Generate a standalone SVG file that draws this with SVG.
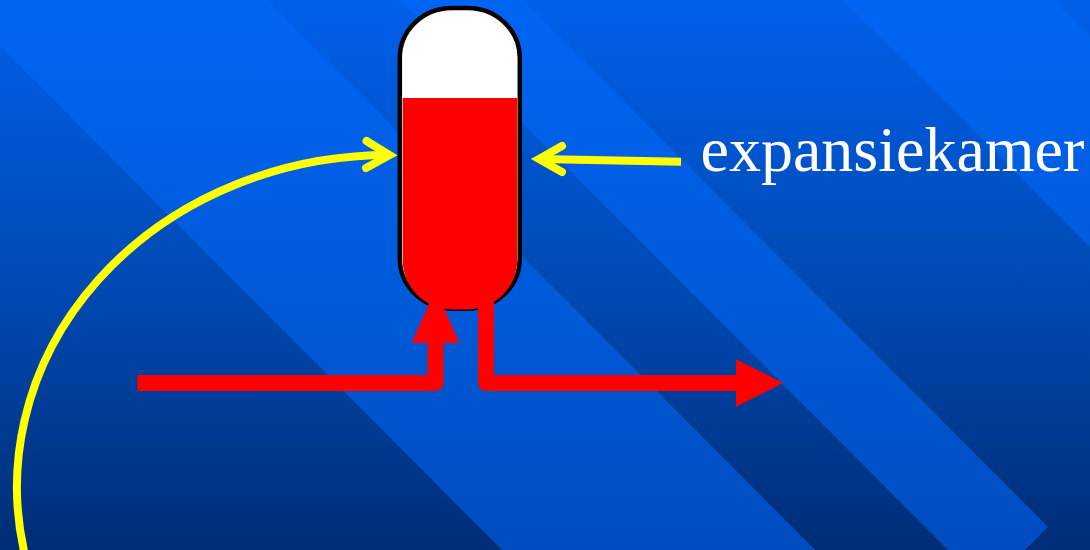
<svg xmlns="http://www.w3.org/2000/svg" width="1090" height="550" viewBox="0 0 1090 550">
<style>
.yl{fill:none;stroke:#ffff00;stroke-width:8;stroke-linecap:round;stroke-linejoin:miter}
.pipe{fill:none;stroke:#ff0000;stroke-width:16;stroke-linejoin:round}
.label{font-family:"Liberation Serif","Times New Roman",serif;font-size:64px;fill:#ffffff}
</style>
<defs>
<linearGradient id="dark" gradientUnits="userSpaceOnUse" x1="0" y1="0" x2="0" y2="550">
<stop offset="0" stop-color="#0060ea"/><stop offset="0.55" stop-color="#0048b0"/><stop offset="1" stop-color="#002d76"/>
</linearGradient>
<linearGradient id="light" gradientUnits="userSpaceOnUse" x1="0" y1="0" x2="0" y2="550">
<stop offset="0" stop-color="#0065f4"/><stop offset="0.55" stop-color="#005ad8"/><stop offset="1" stop-color="#004cc0"/>
</linearGradient>
</defs>
<g id="background">
<rect width="1090" height="550" fill="url(#dark)"/>
<polygon fill="url(#light)" points="0,0 267,0 815,550 502,550 0,46"/>
<polygon fill="url(#light)" points="400,0 523,0 1048,527 1025,550 948,550 400,0"/>
<polygon fill="url(#light)" points="843,0 1053,0 1090,37 1090,247"/>
</g>
<g id="expansiekamer-tank">
<rect x="399.800" y="8" width="120" height="300.500" rx="52" ry="50" fill="#ffffff" stroke="#000000" stroke-width="4.500"/>
<path d="M402.700,98 H517.300 V260 A50,49.500 0 0 1 467.300,309.500 H452.700 A50,49.500 0 0 1 402.700,260 Z" fill="#ff0000"/>
</g>
<g id="connectors">
<path class="pipe" d="M137.500,383 H435.500 V340"/>
<polygon fill="#ff0000" points="411.700,343 459.300,343 435.500,289"/>
<path class="pipe" d="M486,300 V383 H740"/>
<polygon fill="#ff0000" points="736,359.300 736,406.700 783.300,383"/>
<path class="yl" style="stroke-linecap:butt" d="M26.100,560 A372,332 0 0 1 389,155"/>
<path class="yl" d="M366.500,141 L389.500,155 L366,168"/>
<path class="yl" style="stroke-linecap:butt" d="M681,161.700 L540,159"/>
<path class="yl" d="M562,146 L539,159 L562,172"/>
</g>
<g id="label">
<text class="label" x="700.500" y="170.700">expansiekamer</text>
</g>
</svg>
